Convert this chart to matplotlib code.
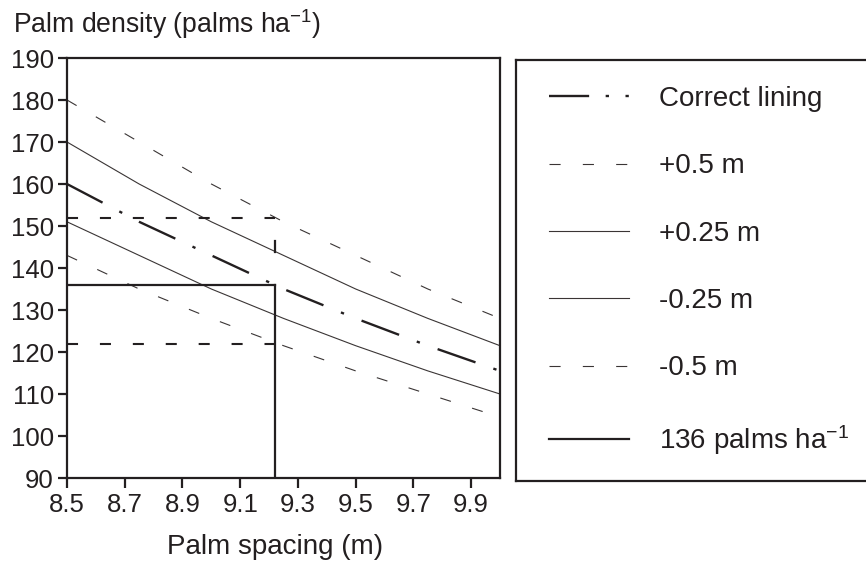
import numpy as np
import matplotlib.pyplot as plt
from matplotlib.lines import Line2D

plt.rcParams['font.family'] = ['Liberation Sans', 'DejaVu Sans']
plt.rcParams['mathtext.fontset'] = 'custom'
plt.rcParams['mathtext.rm'] = 'Liberation Sans'
plt.rcParams['mathtext.default'] = 'regular'
ink = '#231f20'

# palm spacing (m) where curves were computed
spacing = [8.5, 8.75, 9.0, 9.25, 9.5, 9.75, 10.0]

# palm density (palms/ha) for each lining error
correct = [160, 151, 143, 135, 128, 121.5, 115.5]
plus_05 = [180, 170, 160, 151, 143, 135, 128]
plus_025 = [170, 160, 151, 143, 135, 128, 121.5]
minus_025 = [151, 143, 135, 128, 121.5, 115.5, 110]
minus_05 = [143, 135, 128, 121.5, 115.5, 110, 104.5]

# reading guides for the 136 palms/ha spacing
target_x = [8.5, 9.22]
target_density = 136
upper_density = 152
lower_density = 122
guide_x = [9.22, 9.22]
guide_y = [90, 136]
guide_tick_y = [143.8, 146.5]

xticks = [8.5, 8.7, 8.9, 9.1, 9.3, 9.5, 9.7, 9.9]
yticks = list(range(90, 191, 10))

fig = plt.figure(figsize=(8.66, 5.62), dpi=100)
ax = fig.add_axes([67/866, 1-478/562, 433/866, 420/562])

thin = dict(color='#3a3535', lw=0.8)
ax.plot(spacing, correct, color=ink, lw=1.7, dashes=(17, 8, 1.4, 8))
h_p05, = ax.plot(spacing, plus_05, dashes=(10, 20), **thin)
h_p025, = ax.plot(spacing, plus_025, **thin)
h_m025, = ax.plot(spacing, minus_025, **thin)
h_m05, = ax.plot(spacing, minus_05, dashes=(10, 20), **thin)

ax.plot(target_x, [upper_density]*2, color=ink, lw=1.5, dashes=(5.3, 10.5))
ax.plot(target_x, [lower_density]*2, color=ink, lw=1.5, dashes=(5.3, 10.5))
h_136, = ax.plot(target_x, [target_density]*2, color=ink, lw=1.6)
ax.plot(guide_x, guide_y, color=ink, lw=1.6)
ax.plot(guide_x, guide_tick_y, color=ink, lw=1.6)

ax.set_xlim(8.5, 10.0)
ax.set_ylim(90, 190)
ax.set_xticks(xticks)
ax.set_xticklabels([f'{v:.1f}' for v in xticks])
ax.set_yticks(yticks)
for s in ax.spines.values():
    s.set_linewidth(1.6)
    s.set_color(ink)
ax.tick_params(axis='both', labelsize=18.5, colors=ink, width=1.6)
ax.tick_params(axis='x', length=7, pad=4)
ax.tick_params(axis='y', length=6.5, pad=3)

fig.text(13/866, 1-33/562, 'Palm density (palms ha$^{-1}$)', fontsize=19.2,
         color=ink, va='baseline', ha='left')
fig.text(275/866, 1-554/562, 'Palm spacing (m)', fontsize=20, color=ink,
         va='baseline', ha='center')

# legend sits in its own framed box to the right
lax = fig.add_axes([516/866, 1-481/562, 0.45, 421/562])
lax.set_xticks([])
lax.set_yticks([])
for s in lax.spines.values():
    s.set_linewidth(1.6)
    s.set_color(ink)

# legend key for the dash-dot line: one dash followed by two dots
h_cor = Line2D([], [], color=ink, lw=1.7, dashes=(17, 7, 1.4, 7, 1.4, 7))

handles = [h_cor, h_p05, h_p025, h_m025, h_m05, h_136]
labels = ['Correct lining', '+0.5 m', '+0.25 m', '-0.25 m', '-0.5 m',
          '136 palms ha$^{-1}$']
leg = lax.legend(handles, labels, loc='upper left', bbox_to_anchor=(0.055, 0.965),
                 frameon=False, fontsize=20, handlelength=2.9, handletextpad=1.08,
                 labelspacing=1.49, borderaxespad=0)
for t in leg.get_texts():
    t.set_color(ink)

fig.savefig('out.png', dpi=100)
